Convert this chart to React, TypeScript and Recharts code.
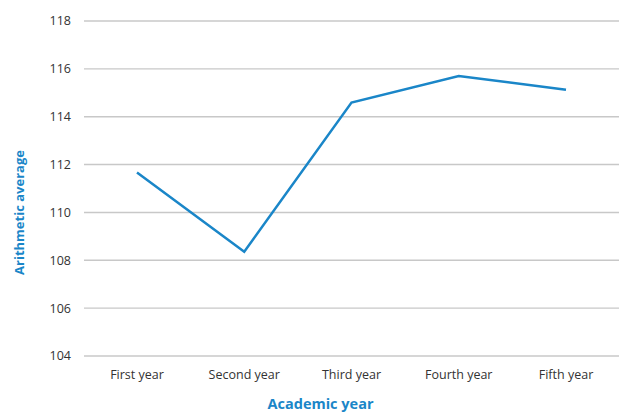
import React from "react"
import { LineChart, Line, XAxis, YAxis, CartesianGrid } from "recharts"

const years = ["First year", "Second year", "Third year", "Fourth year", "Fifth year"]
const averages = [111.67, 108.36, 114.59, 115.7, 115.13]
const yTicks = [104, 106, 108, 110, 112, 114, 116, 118]

const data = years.map((year, i) => ({ year, average: averages[i] }))

const blue = "#1a86c8"
const font = "'Open Sans', sans-serif"

// y title sits a bit below the plot's middle in the original
const YTitle = ({ viewBox }: any) => {
  const x = viewBox.x + 19
  const y = viewBox.y + viewBox.height / 2 + 24
  return (
    <text
      x={x}
      y={y}
      transform={`rotate(-90, ${x}, ${y})`}
      textAnchor="middle"
      dominantBaseline="central"
      fill={blue}
      fontSize={13}
      fontWeight="bold"
      fontFamily={font}
    >
      Arithmetic average
    </text>
  )
}

const App = (): React.ReactElement => {
  return (
    <div style={{ position: "absolute", left: 0, top: 0, fontFamily: font }}>
      <LineChart
        width={624}
        height={415}
        data={data}
        margin={{ top: 21, right: 5, left: 0, bottom: 29 }}
      >
        <CartesianGrid vertical={false} stroke="#c8c8c8" strokeWidth={1.4} />
        <XAxis
          dataKey="year"
          axisLine={false}
          tickLine={false}
          tickSize={0}
          tickMargin={14}
          height={30}
          padding={{ left: 53, right: 53 }}
          tick={{ fill: "#333", fontSize: 12.5, fontFamily: font }}
          label={{
            value: "Academic year",
            position: "bottom",
            offset: 13,
            dx: -31,
            fill: blue,
            fontSize: 14.5,
            fontWeight: "bold",
            fontFamily: font,
          }}
        />
        <YAxis
          width={84}
          domain={[104, 118]}
          ticks={yTicks}
          axisLine={false}
          tickLine={false}
          tickSize={0}
          tickMargin={13}
          tick={{ fill: "#333", fontSize: 12.5, fontFamily: font }}
          label={<YTitle />}
        />
        <Line
          type="linear"
          dataKey="average"
          stroke={blue}
          strokeWidth={2.5}
          dot={false}
          isAnimationActive={false}
        />
      </LineChart>
    </div>
  )
}

export default App
